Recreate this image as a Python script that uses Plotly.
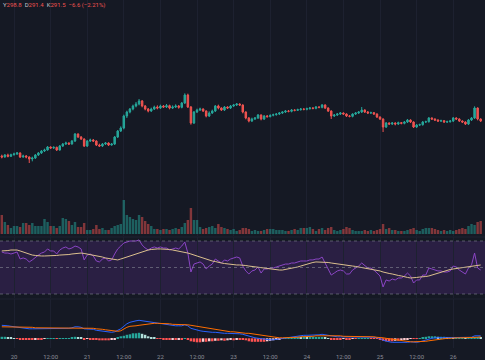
import plotly.graph_objects as go
import pandas as pd

# ---------------- data ----------------
start_time = "2024-03-19 20:00"   # first hourly candle
n_candles = 158

opens = [
283.2, 282.9, 283.5, 283.1, 283.6, 283.8, 284.1, 282.9, 283.2, 282.9,
282.3, 282.6, 283.5, 284.1, 284.7, 285.0, 285.9, 285.6, 285.8, 285.0,
286.2, 286.8, 287.1, 286.8, 287.7, 289.8, 288.9, 288.3, 286.2, 287.7,
288.0, 287.7, 286.5, 286.2, 286.8, 287.1, 286.5, 286.8, 288.9, 290.7,
291.6, 295.2, 296.4, 297.3, 298.2, 298.8, 299.7, 298.2, 297.3, 296.7,
297.3, 297.9, 297.6, 298.2, 297.9, 298.3, 297.6, 297.9, 298.2, 297.8,
299.1, 301.5, 297.9, 293.1, 296.4, 297.0, 297.3, 296.7, 295.2, 296.1,
296.7, 298.2, 297.6, 297.0, 297.9, 297.6, 298.2, 298.5, 298.8, 298.5,
296.4, 294.6, 293.7, 294.3, 294.6, 295.5, 294.3, 295.2, 295.0, 295.4,
295.6, 295.8, 296.1, 296.4, 296.7, 296.6, 297.0, 296.9, 297.1, 297.3,
297.2, 297.4, 297.6, 297.5, 297.9, 297.8, 298.5, 297.6, 296.7, 295.2,
295.5, 295.8, 296.1, 295.8, 295.2, 295.1, 295.8, 296.1, 296.4, 297.0,
296.4, 296.1, 296.2, 295.8, 294.9, 294.3, 291.9, 293.1, 292.8, 293.1,
292.8, 293.2, 293.0, 293.4, 294.0, 293.4, 291.9, 292.5, 292.6, 293.4,
293.5, 294.6, 294.3, 294.0, 293.7, 293.8, 293.4, 293.5, 293.7, 294.6,
294.3, 293.7, 293.4, 292.8, 294.0, 294.6, 297.6, 294.3]

highs = [
283.6, 283.8, 283.9, 283.9, 284.2, 284.4, 284.3, 283.6, 283.5, 283.1,
283.0, 283.8, 284.4, 285.0, 285.4, 286.2, 286.1, 286.1, 286.0, 286.5,
287.1, 287.5, 287.3, 288.0, 290.1, 290.0, 289.2, 288.5, 288.0, 288.4,
288.3, 287.9, 286.9, 287.1, 287.4, 287.3, 287.1, 289.2, 291.0, 292.1,
295.6, 296.8, 297.6, 298.6, 299.4, 300.3, 300.0, 298.5, 297.6, 297.7,
298.3, 298.4, 298.6, 298.5, 298.8, 298.6, 298.4, 298.7, 298.5, 299.4,
302.0, 301.9, 298.2, 296.7, 297.4, 297.7, 297.5, 296.9, 296.6, 297.1,
298.5, 298.6, 297.8, 298.2, 298.1, 298.5, 298.8, 299.1, 299.0, 298.7,
296.6, 294.9, 294.7, 294.9, 295.8, 295.7, 295.5, 295.5, 295.7, 295.9,
296.1, 296.4, 296.6, 297.0, 297.0, 297.3, 297.2, 297.4, 297.6, 297.5,
297.7, 297.9, 297.8, 298.2, 298.1, 298.8, 298.7, 297.8, 296.9, 295.8,
296.1, 296.4, 296.3, 296.0, 295.5, 296.0, 296.4, 296.7, 297.9, 297.2,
296.7, 296.5, 296.4, 296.0, 295.1, 294.5, 293.4, 293.3, 293.4, 293.3,
293.5, 293.4, 293.7, 294.3, 294.2, 293.6, 292.8, 292.9, 293.7, 293.8,
294.9, 294.8, 294.5, 294.2, 294.1, 294.0, 293.8, 294.0, 294.9, 294.8,
294.5, 293.9, 293.6, 294.3, 294.9, 298.1, 297.8, 294.5]

lows = [
282.5, 282.7, 282.8, 282.9, 283.3, 283.5, 282.6, 282.7, 282.5, 281.1,
281.6, 282.3, 283.2, 283.8, 284.4, 284.8, 285.3, 285.3, 284.7, 284.8,
285.9, 286.5, 286.5, 286.6, 287.4, 288.6, 288.0, 285.9, 285.9, 287.4,
287.4, 286.2, 285.9, 285.9, 286.5, 286.2, 286.3, 286.5, 288.6, 290.4,
291.2, 294.6, 296.0, 296.9, 297.8, 298.4, 297.8, 296.9, 296.3, 296.4,
297.0, 297.2, 297.3, 297.6, 297.6, 297.2, 297.3, 297.6, 297.4, 297.5,
298.8, 297.6, 292.6, 292.8, 296.1, 296.7, 296.4, 294.8, 294.9, 295.8,
296.4, 297.2, 296.7, 296.7, 297.3, 297.3, 297.9, 298.2, 298.2, 296.0,
294.2, 293.3, 293.4, 294.0, 294.3, 293.9, 294.0, 294.7, 294.8, 295.1,
295.3, 295.5, 295.8, 296.1, 296.3, 296.3, 296.6, 296.7, 296.8, 296.9,
296.9, 297.1, 297.2, 297.2, 297.5, 297.5, 297.3, 296.4, 294.3, 294.9,
295.2, 295.5, 295.5, 294.9, 294.8, 294.8, 295.5, 295.8, 296.1, 296.1,
295.8, 295.8, 295.5, 294.6, 294.0, 290.4, 291.6, 292.5, 292.5, 292.4,
292.5, 292.7, 292.7, 293.1, 293.1, 291.6, 291.6, 292.2, 292.3, 293.1,
293.2, 294.0, 293.7, 293.4, 293.4, 293.1, 293.1, 293.2, 293.4, 294.0,
293.4, 293.1, 292.5, 292.5, 293.7, 294.3, 293.9, 293.4]

closes = [
282.9, 283.5, 283.1, 283.6, 283.8, 284.1, 282.9, 283.2, 282.9, 282.3,
282.6, 283.5, 284.1, 284.7, 285.0, 285.9, 285.6, 285.8, 285.0, 286.2,
286.8, 287.1, 286.8, 287.7, 289.8, 288.9, 288.3, 286.2, 287.7, 288.0,
287.7, 286.5, 286.2, 286.8, 287.1, 286.5, 286.8, 288.9, 290.7, 291.6,
295.2, 296.4, 297.3, 298.2, 298.8, 299.7, 298.2, 297.3, 296.7, 297.3,
297.9, 297.6, 298.2, 297.9, 298.3, 297.6, 297.9, 298.2, 297.8, 299.1,
301.5, 297.9, 293.1, 296.4, 297.0, 297.3, 296.7, 295.2, 296.1, 296.7,
298.2, 297.6, 297.0, 297.9, 297.6, 298.2, 298.5, 298.8, 298.5, 296.4,
294.6, 293.7, 294.3, 294.6, 295.5, 294.3, 295.2, 295.0, 295.4, 295.6,
295.8, 296.1, 296.4, 296.7, 296.6, 297.0, 296.9, 297.1, 297.3, 297.2,
297.4, 297.6, 297.5, 297.9, 297.8, 298.5, 297.6, 296.7, 295.2, 295.5,
295.8, 296.1, 295.8, 295.2, 295.1, 295.8, 296.1, 296.4, 297.0, 296.4,
296.1, 296.2, 295.8, 294.9, 294.3, 291.9, 293.1, 292.8, 293.1, 292.8,
293.2, 293.0, 293.4, 294.0, 293.4, 291.9, 292.5, 292.6, 293.4, 293.5,
294.6, 294.3, 294.0, 293.7, 293.8, 293.4, 293.5, 293.7, 294.6, 294.3,
293.7, 293.4, 292.8, 294.0, 294.6, 297.6, 294.3, 293.7]

volumes = [
1900, 1200, 900, 600, 800, 800, 700, 1100, 1100, 900,
1100, 800, 800, 800, 1500, 1200, 800, 800, 600, 800,
1600, 1500, 1300, 900, 1200, 700, 700, 1100, 400, 400,
500, 900, 500, 600, 400, 400, 600, 800, 900, 1000,
3400, 1900, 1700, 1500, 1400, 1900, 1700, 1300, 1000, 800,
500, 500, 400, 500, 500, 400, 500, 600, 500, 700,
1100, 1400, 2600, 1400, 1400, 700, 500, 600, 700, 800,
600, 1000, 700, 600, 500, 400, 500, 300, 400, 600,
600, 500, 300, 400, 300, 300, 400, 500, 500, 500,
400, 400, 400, 300, 300, 400, 500, 400, 600, 600,
600, 700, 500, 300, 500, 600, 400, 600, 700, 400,
300, 400, 500, 700, 600, 400, 300, 300, 300, 400,
300, 400, 300, 400, 500, 1000, 500, 600, 400, 400,
300, 300, 300, 400, 500, 600, 400, 300, 500, 600,
600, 600, 500, 400, 300, 400, 300, 400, 300, 400,
500, 600, 500, 800, 1000, 900, 1200, 1300]

rsi = [
61.7, 60.9, 60.9, 60.2, 60.9, 61.7, 56.4, 57.2, 56.4, 54.2,
55.7, 57.9, 59.4, 60.9, 61.7, 64.0, 62.5, 62.5, 60.2, 63.2,
64.7, 65.5, 64.0, 64.7, 66.2, 65.5, 64.0, 55.7, 59.4, 60.2,
58.7, 54.9, 54.2, 56.4, 57.2, 54.9, 55.7, 60.2, 64.0, 66.2,
68.5, 69.2, 70.0, 70.0, 70.0, 70.8, 67.0, 64.7, 63.2, 64.7,
65.5, 64.7, 65.5, 64.7, 64.7, 63.2, 64.0, 64.7, 64.0, 66.2,
69.2, 60.9, 46.6, 52.6, 53.4, 54.2, 52.6, 48.9, 51.1, 52.6,
56.4, 54.9, 53.4, 55.7, 54.9, 56.4, 57.2, 57.9, 57.2, 51.1,
47.4, 45.1, 47.4, 48.1, 50.4, 45.8, 48.9, 48.9, 49.6, 49.6,
50.4, 51.1, 51.9, 52.6, 52.6, 53.4, 53.4, 54.2, 54.9, 54.9,
54.9, 55.7, 55.7, 56.4, 56.4, 57.9, 53.4, 49.6, 44.3, 45.8,
47.4, 48.1, 47.4, 45.1, 45.1, 48.1, 49.6, 51.1, 53.4, 51.1,
49.6, 49.6, 48.1, 45.8, 43.6, 35.3, 40.6, 39.8, 41.3, 40.6,
42.1, 42.1, 43.6, 45.8, 43.6, 38.3, 40.6, 40.6, 44.3, 44.3,
49.6, 48.9, 48.1, 47.4, 47.4, 46.6, 46.6, 47.4, 51.1, 50.4,
48.1, 46.6, 45.1, 49.6, 51.9, 60.9, 49.6, 48.1]

rsi_ma = [
62.5, 62.5, 62.8, 63.2, 63.2, 63.2, 62.5, 61.7, 60.9, 60.2,
59.4, 59.1, 58.7, 58.7, 58.7, 58.7, 58.7, 58.7, 59.1, 59.4,
59.4, 59.4, 59.8, 60.2, 60.6, 60.9, 60.9, 60.6, 60.2, 59.8,
59.4, 58.7, 58.3, 57.9, 57.2, 56.8, 56.4, 56.0, 55.7, 56.4,
57.2, 57.9, 58.7, 59.4, 60.2, 60.9, 61.7, 62.5, 63.2, 63.6,
64.0, 64.0, 64.0, 64.0, 64.0, 63.6, 63.2, 62.8, 62.5, 61.7,
61.3, 60.9, 60.2, 59.4, 58.7, 57.9, 57.2, 56.4, 55.7, 54.9,
54.5, 54.2, 53.4, 53.0, 52.6, 52.3, 51.9, 51.9, 51.9, 51.9,
51.5, 51.1, 50.8, 50.4, 50.0, 49.6, 49.6, 49.2, 48.9, 48.5,
48.1, 48.1, 48.1, 48.5, 48.9, 49.2, 49.6, 50.4, 51.1, 51.9,
52.6, 53.4, 53.8, 54.2, 54.2, 54.2, 54.2, 53.8, 53.4, 53.0,
52.6, 52.6, 52.3, 51.9, 51.5, 51.1, 50.8, 50.4, 50.0, 49.6,
49.2, 48.9, 48.5, 48.1, 47.4, 46.6, 45.8, 45.5, 45.1, 44.3,
44.0, 43.6, 42.8, 42.5, 42.1, 42.1, 42.5, 42.8, 42.8, 43.2,
43.6, 44.3, 45.1, 45.8, 46.6, 47.4, 48.1, 48.5, 48.9, 49.2,
49.6, 50.0, 50.4, 50.8, 51.1, 51.5, 51.5, 51.9]

macd = [
2.6, 2.6, 2.5, 2.4, 2.3, 2.2, 2.1, 2.1, 2.0, 1.9,
1.9, 1.9, 1.9, 1.9, 1.9, 2.0, 2.0, 2.0, 1.9, 2.0,
2.0, 2.0, 2.0, 2.1, 2.3, 2.3, 2.2, 1.9, 1.9, 1.8,
1.8, 1.6, 1.5, 1.4, 1.3, 1.2, 1.2, 1.3, 1.6, 1.9,
2.4, 2.9, 3.2, 3.4, 3.5, 3.6, 3.5, 3.4, 3.3, 3.2,
3.1, 3.0, 2.9, 2.8, 2.7, 2.6, 2.6, 2.5, 2.5, 2.5,
2.7, 2.5, 2.0, 1.8, 1.6, 1.5, 1.4, 1.3, 1.3, 1.2,
1.2, 1.1, 1.1, 1.0, 1.0, 1.0, 0.9, 0.9, 0.9, 0.8,
0.6, 0.4, 0.2, 0.1, 0.0, -0.1, -0.2, -0.3, -0.3, -0.3,
-0.2, -0.1, 0.0, 0.1, 0.2, 0.3, 0.4, 0.5, 0.5, 0.6,
0.6, 0.6, 0.6, 0.7, 0.7, 0.8, 0.7, 0.6, 0.4, 0.3,
0.3, 0.3, 0.3, 0.2, 0.2, 0.2, 0.2, 0.3, 0.3, 0.3,
0.3, 0.2, 0.2, 0.1, 0.0, -0.4, -0.6, -0.7, -0.8, -0.8,
-0.9, -0.9, -0.9, -0.8, -0.7, -0.8, -0.8, -0.7, -0.5, -0.3,
-0.1, 0.0, 0.1, 0.1, 0.2, 0.2, 0.2, 0.2, 0.2, 0.2,
0.2, 0.2, 0.1, 0.2, 0.2, 0.5, 0.5, 0.5]

signal = [
2.3, 2.3, 2.3, 2.3, 2.3, 2.3, 2.3, 2.3, 2.2, 2.2,
2.2, 2.1, 2.1, 2.1, 2.0, 2.0, 2.0, 2.0, 2.0, 2.0,
2.0, 2.0, 2.0, 2.0, 2.0, 2.1, 2.1, 2.1, 2.0, 2.0,
2.0, 1.9, 1.9, 1.8, 1.7, 1.6, 1.5, 1.5, 1.4, 1.5,
1.9, 2.2, 2.4, 2.4, 2.5, 2.6, 2.7, 2.8, 2.9, 3.0,
3.0, 3.0, 3.0, 3.0, 2.9, 2.9, 2.8, 2.8, 2.7, 2.7,
2.7, 2.7, 2.6, 2.5, 2.4, 2.3, 2.1, 2.0, 1.9, 1.8,
1.7, 1.6, 1.5, 1.5, 1.4, 1.3, 1.3, 1.2, 1.2, 1.1,
1.0, 1.0, 0.9, 0.8, 0.7, 0.6, 0.5, 0.4, 0.3, 0.2,
0.2, 0.1, 0.1, 0.1, 0.1, 0.1, 0.2, 0.2, 0.3, 0.3,
0.4, 0.4, 0.4, 0.5, 0.5, 0.6, 0.6, 0.6, 0.6, 0.5,
0.5, 0.5, 0.4, 0.4, 0.4, 0.3, 0.3, 0.3, 0.3, 0.3,
0.3, 0.3, 0.3, 0.2, 0.2, 0.1, 0.0, -0.1, -0.2, -0.3,
-0.4, -0.5, -0.6, -0.6, -0.7, -0.7, -0.7, -0.7, -0.7, -0.6,
-0.5, -0.4, -0.3, -0.2, -0.1, -0.1, 0.0, 0.0, 0.1, 0.1,
0.1, 0.1, 0.1, 0.1, 0.1, 0.2, 0.2, 0.3]

hist = [
0.3, 0.3, 0.2, 0.1, 0.05, -0.1, -0.2, -0.2, -0.2, -0.3,
-0.3, -0.2, -0.2, -0.2, -0.1, 0.05, 0.05, 0.05, -0.1, 0.05,
0.05, 0.05, 0.05, 0.1, 0.3, 0.2, 0.1, -0.2, -0.1, -0.2,
-0.2, -0.3, -0.4, -0.4, -0.4, -0.4, -0.3, -0.2, 0.2, 0.4,
0.5, 0.7, 0.8, 1.0, 1.0, 1.1, 0.9, 0.7, 0.4, 0.2,
0.1, -0.05, -0.1, -0.2, -0.2, -0.3, -0.2, -0.3, -0.2, -0.2,
0.05, -0.2, -0.6, -0.7, -0.8, -0.8, -0.7, -0.7, -0.6, -0.6,
-0.5, -0.5, -0.4, -0.5, -0.4, -0.3, -0.4, -0.3, -0.3, -0.3,
-0.4, -0.6, -0.7, -0.7, -0.7, -0.7, -0.7, -0.6, -0.5, -0.4,
-0.3, -0.2, -0.1, 0.05, 0.1, 0.2, 0.2, 0.3, 0.2, 0.3,
0.2, 0.2, 0.2, 0.2, 0.2, 0.2, 0.1, 0.05, -0.2, -0.2,
-0.2, -0.2, -0.1, -0.2, -0.2, -0.1, -0.1, 0.05, 0.05, 0.05,
0.05, -0.1, -0.1, -0.1, -0.2, -0.5, -0.6, -0.6, -0.6, -0.5,
-0.5, -0.4, -0.3, -0.2, -0.1, -0.1, -0.1, 0.05, 0.2, 0.3,
0.4, 0.4, 0.4, 0.3, 0.3, 0.3, 0.2, 0.2, 0.1, 0.1,
0.1, 0.1, 0.05, 0.1, 0.1, 0.3, 0.3, 0.2]

tick_times = ["2024-03-20 00:00", "2024-03-20 12:00", "2024-03-21 00:00", "2024-03-21 12:00",
              "2024-03-22 00:00", "2024-03-22 12:00", "2024-03-23 00:00", "2024-03-23 12:00",
              "2024-03-24 00:00", "2024-03-24 12:00", "2024-03-25 00:00", "2024-03-25 12:00",
              "2024-03-26 00:00"]
tick_labels = ["20", "12:00", "21", "12:00", "22", "12:00", "23", "12:00",
               "24", "12:00", "25", "12:00", "26"]

legend_labels = ["Y", "D", "K"]
legend_values = ["298.8", "291.4", "291.5"]
legend_change = "\u22126.6 (\u22122.21%)"

# ---------------- styling ----------------
BG = "#151924"
GRID = "#1d2130"
UP = "#26a69a"
DOWN = "#ef5350"
FONT = "Roboto"

times = pd.date_range(start_time, periods=n_candles, freq="h")

vol_colors = ["rgba(38,166,154,0.5)" if c >= o else "rgba(239,83,80,0.5)"
              for o, c in zip(opens, closes)]
hist_colors = []
for i, h in enumerate(hist):
    prev = hist[i - 1] if i > 0 else h
    if h >= 0:
        hist_colors.append("#26a69a" if h >= prev else "#b2dfdb")
    else:
        hist_colors.append("#ffcdd2" if h > prev else "#ff5252")

fig = go.Figure()

fig.add_trace(go.Bar(x=times, y=volumes, marker=dict(color=vol_colors, line=dict(width=0)),
                     xaxis="x", yaxis="y2", hoverinfo="skip"))
fig.add_trace(go.Candlestick(x=times, open=opens, high=highs, low=lows, close=closes,
                             increasing=dict(line=dict(color=UP, width=1), fillcolor=UP),
                             decreasing=dict(line=dict(color=DOWN, width=1), fillcolor=DOWN),
                             whiskerwidth=0, xaxis="x", yaxis="y", hoverinfo="skip"))
fig.add_trace(go.Scatter(x=times, y=rsi, mode="lines", line=dict(color="#8a45c4", width=1),
                         xaxis="x", yaxis="y3", hoverinfo="skip"))
fig.add_trace(go.Scatter(x=times, y=rsi_ma, mode="lines", line=dict(color="#dcc08e", width=1),
                         xaxis="x", yaxis="y3", hoverinfo="skip"))
fig.add_trace(go.Bar(x=times, y=hist, marker=dict(color=hist_colors, line=dict(width=0)),
                     xaxis="x", yaxis="y4", hoverinfo="skip"))
fig.add_trace(go.Scatter(x=times, y=macd, mode="lines", line=dict(color="#2962ff", width=1),
                         xaxis="x", yaxis="y4", hoverinfo="skip"))
fig.add_trace(go.Scatter(x=times, y=signal, mode="lines", line=dict(color="#ff6d00", width=1),
                         xaxis="x", yaxis="y4", hoverinfo="skip"))

shapes = [
    dict(type="rect", xref="paper", yref="y3", x0=0, x1=1, y0=30, y1=70,
         fillcolor="rgba(140,60,210,0.18)", line=dict(width=0), layer="below"),
]
for lvl in (70, 50, 30):
    shapes.append(dict(type="line", xref="paper", yref="y3", x0=0, x1=1, y0=lvl, y1=lvl,
                       line=dict(color="rgba(140,143,154,0.55)", width=1, dash="3px,3px")))
for yp in (1 - 237 / 360, 1 - 299 / 360):
    shapes.append(dict(type="line", xref="paper", yref="paper", x0=0, x1=1, y0=yp, y1=yp,
                       line=dict(color="#1f2330", width=1)))

legend_text = "  ".join(
    f"<span style='color:#c4c6ce'>{lab}</span><span style='color:{DOWN}'>{val}</span>"
    for lab, val in zip(legend_labels, legend_values)
) + f"  <span style='color:{DOWN}'>{legend_change}</span>"

hidden_y = dict(showticklabels=False, showgrid=False, zeroline=False, showline=False, ticks="",
                fixedrange=True)

fig.update_layout(
    width=485, height=360,
    margin=dict(l=0, r=0, t=0, b=0),
    paper_bgcolor=BG, plot_bgcolor=BG,
    showlegend=False, bargap=0.2, hovermode=False,
    font=dict(family=FONT, color="#787b86", size=6),
    xaxis=dict(type="date", range=["2024-03-19 19:24:36", "2024-03-26 10:25:00"],
               anchor="y4", tickvals=tick_times, ticktext=tick_labels, tickangle=0,
               showgrid=True, gridcolor=GRID, gridwidth=1, zeroline=False, showline=False,
               ticks="", ticklabelstandoff=4,
               tickfont=dict(family=FONT, size=6, color="#8a8d97"),
               rangeslider=dict(visible=False), fixedrange=True),
    yaxis=dict(domain=[1 - 236 / 360, 1.0], range=[259.2, 330], anchor="x", **hidden_y),
    yaxis2=dict(overlaying="y", range=[-200, 23400], anchor="x", **hidden_y),
    yaxis3=dict(domain=[1 - 298 / 360, 1 - 237 / 360], range=[26.98, 73.02], anchor="x", **hidden_y),
    yaxis4=dict(domain=[1 - 348 / 360, 1 - 299 / 360], range=[-1.94, 7.86], anchor="x", **hidden_y),
    shapes=shapes,
    annotations=[dict(xref="paper", yref="paper", x=0.003, y=1 - 5.5 / 360, xanchor="left",
                      yanchor="middle", showarrow=False, text=legend_text,
                      font=dict(family=FONT, size=6, color="#c4c6ce"))],
)

fig.write_html(
    "out.html",
    config={"displayModeBar": False},
    post_script="document.body.style.margin='0';document.body.style.overflow='hidden';"
                "document.body.style.background='%s';" % BG,
)
